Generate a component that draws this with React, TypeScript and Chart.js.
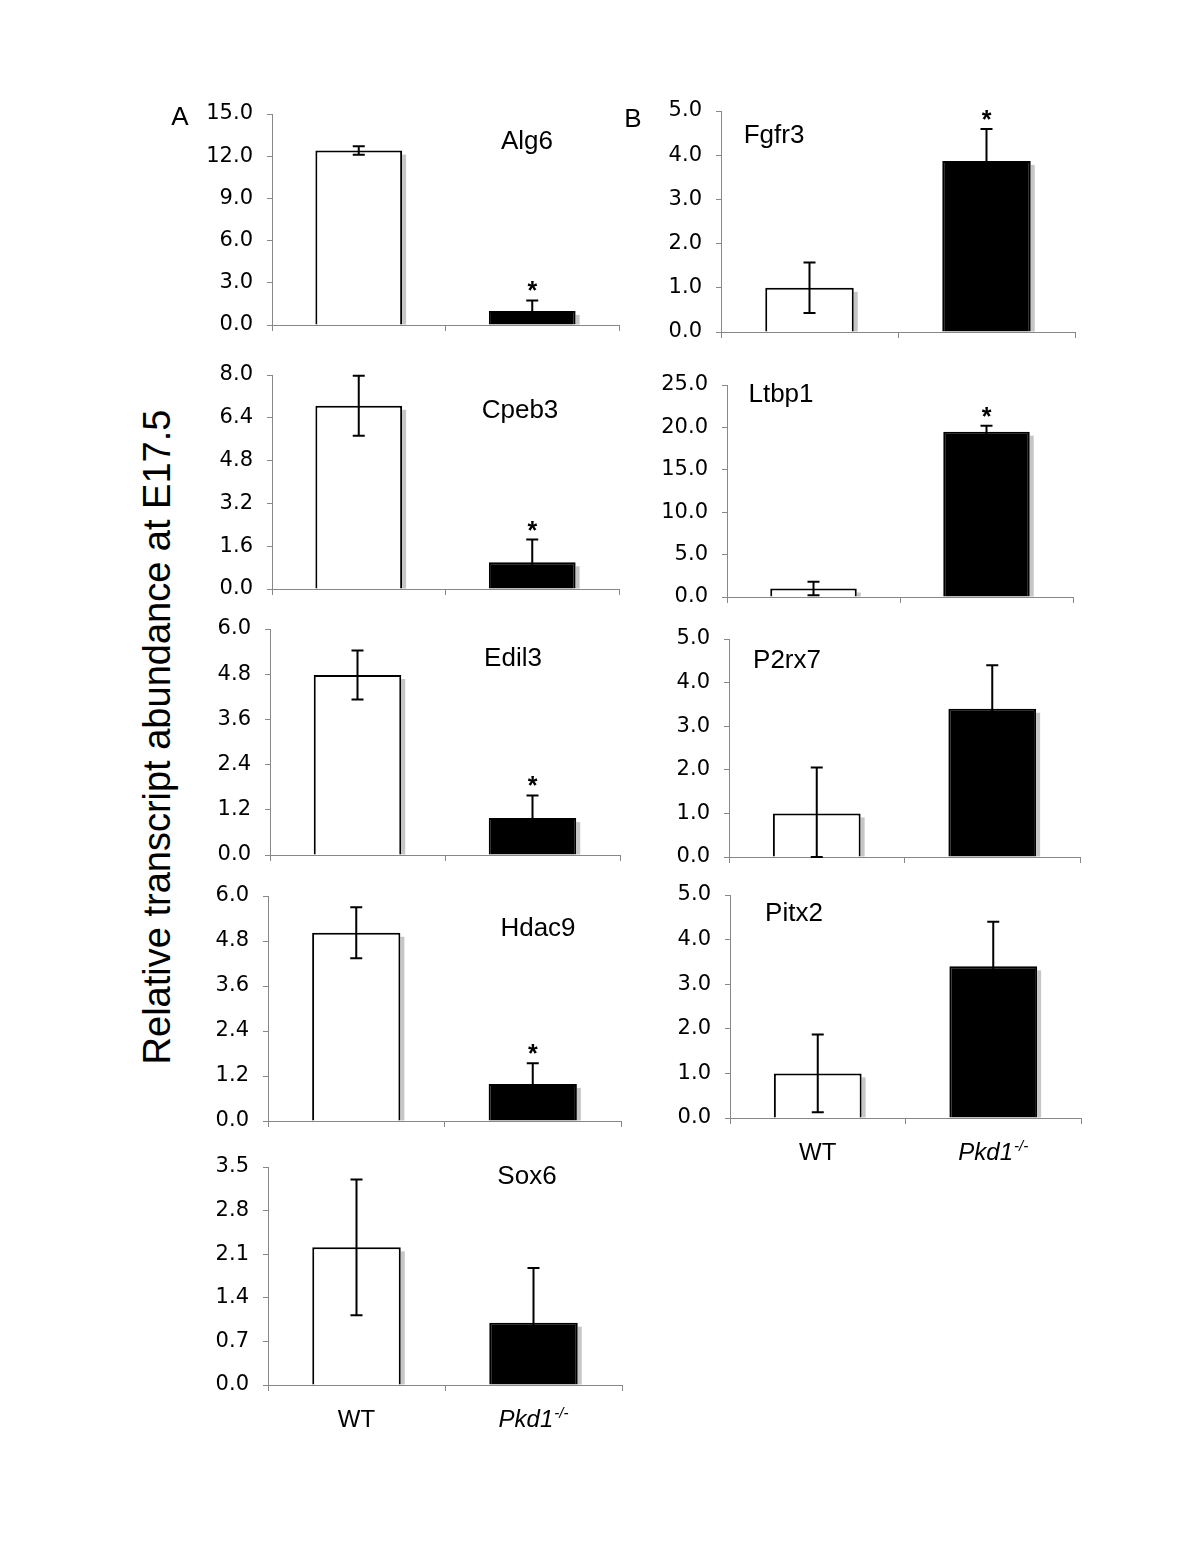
import React, { useEffect, useRef } from "react";
import { Chart, registerables } from "chart.js";

Chart.register(...registerables);

// ---------------- data ----------------
const groups = ["WT", "Pkd1-/-"];
const genes = ["Alg6", "Cpeb3", "Edil3", "Hdac9", "Sox6", "Fgfr3", "Ltbp1", "P2rx7", "Pitx2"];
const wtMeans = [12.4, 6.85, 4.78, 5.02, 2.21, 1.0, 1.0, 1.0, 1.0];
const wtErrors = [0.3, 1.12, 0.65, 0.68, 1.09, 0.57, 0.8, 1.05, 0.87];
const koMeans = [1.0, 1.0, 0.98, 0.99, 1.0, 3.87, 19.5, 3.4, 3.4];
const koErrors = [0.75, 0.85, 0.6, 0.55, 0.88, 0.72, 0.7, 1.0, 1.0];
const koSignificant = [true, true, true, true, false, true, true, false, false];
const yTickLabels = [
  ["0.0", "3.0", "6.0", "9.0", "12.0", "15.0"],
  ["0.0", "1.6", "3.2", "4.8", "6.4", "8.0"],
  ["0.0", "1.2", "2.4", "3.6", "4.8", "6.0"],
  ["0.0", "1.2", "2.4", "3.6", "4.8", "6.0"],
  ["0.0", "0.7", "1.4", "2.1", "2.8", "3.5"],
  ["0.0", "1.0", "2.0", "3.0", "4.0", "5.0"],
  ["0.0", "5.0", "10.0", "15.0", "20.0", "25.0"],
  ["0.0", "1.0", "2.0", "3.0", "4.0", "5.0"],
  ["0.0", "1.0", "2.0", "3.0", "4.0", "5.0"],
];
const panelLetters = ["A", "B"];
const yAxisTitle = "Relative transcript abundance at E17.5";

// ---------------- layout (page pixels) ----------------
const panelLayout = [
  { axisX: 272, topY: 114, zeroY: 325, rightX: 619, titleX: 527, titleY: 142, groupLabels: false },
  { axisX: 272, topY: 375, zeroY: 589, rightX: 619, titleX: 520, titleY: 411, groupLabels: false },
  { axisX: 270, topY: 629, zeroY: 855, rightX: 620, titleX: 513, titleY: 659, groupLabels: false },
  { axisX: 268, topY: 896, zeroY: 1121, rightX: 621, titleX: 538, titleY: 929, groupLabels: false },
  { axisX: 268, topY: 1167, zeroY: 1385, rightX: 622, titleX: 527, titleY: 1177, groupLabels: true },
  { axisX: 721, topY: 111, zeroY: 332, rightX: 1075, titleX: 774, titleY: 136, groupLabels: false },
  { axisX: 727, topY: 385, zeroY: 597, rightX: 1073, titleX: 781, titleY: 395, groupLabels: false },
  { axisX: 729, topY: 639, zeroY: 857, rightX: 1080, titleX: 787, titleY: 661, groupLabels: false },
  { axisX: 730, topY: 895, zeroY: 1118, rightX: 1081, titleX: 794, titleY: 914, groupLabels: true },
];
const letterLayout = [
  { x: 180, y: 116 },
  { x: 633, y: 118 },
];

const YW = 90; // y-axis box width
const PT = 16; // top padding
const PR = 10; // right padding
const XH = 14; // x-axis box height
const PB_LABELS = 50;

const SANS = '"Liberation Sans", Arial, sans-serif';
const TICKFONT = '"DejaVu Sans", Verdana, sans-serif';

function Panel({ idx }: { idx: number }) {
  const ref = useRef<HTMLCanvasElement | null>(null);
  const lay = panelLayout[idx];
  const pb = lay.groupLabels ? PB_LABELS : 0;
  const left = lay.axisX - YW;
  const top = lay.topY - PT;
  const width = lay.rightX - lay.axisX + YW + PR;
  const height = lay.zeroY - lay.topY + PT + XH + pb;

  useEffect(() => {
    if (!ref.current) return;
    const means = [wtMeans[idx], koMeans[idx]];
    const errs = [wtErrors[idx], koErrors[idx]];
    const tickLabels = yTickLabels[idx];
    const tickVals = tickLabels.map((t) => parseFloat(t));

    const deco = {
      id: "deco",
      beforeDatasetsDraw(chart: any) {
        const ctx = chart.ctx;
        const meta = chart.getDatasetMeta(0);
        ctx.save();
        ctx.fillStyle = "#c6c6c6";
        meta.data.forEach((bar: any) => {
          const p = bar.getProps(["x", "y", "base", "width"], true);
          ctx.fillRect(p.x + p.width / 2, p.y + 4, 4, p.base - p.y - 4);
        });
        ctx.restore();
      },
      afterDatasetsDraw(chart: any) {
        const ctx = chart.ctx;
        const ys = chart.scales.y;
        const meta = chart.getDatasetMeta(0);
        ctx.save();
        ctx.strokeStyle = "#000";
        ctx.lineWidth = 2;
        meta.data.forEach((bar: any, i: number) => {
          const x = bar.x;
          const yTop = ys.getPixelForValue(means[i] + errs[i]);
          const yBot = ys.getPixelForValue(Math.max(means[i] - errs[i], 0));
          ctx.beginPath();
          ctx.moveTo(x, yTop);
          ctx.lineTo(x, yBot);
          ctx.moveTo(x - 6, yTop);
          ctx.lineTo(x + 6, yTop);
          ctx.moveTo(x - 6, yBot);
          ctx.lineTo(x + 6, yBot);
          ctx.stroke();
          if (i === 1 && koSignificant[idx]) {
            ctx.fillStyle = "#000";
            ctx.font = `bold 25px ${SANS}`;
            ctx.textAlign = "center";
            ctx.textBaseline = "alphabetic";
            ctx.fillText("*", x, yTop - 1);
          }
        });
        ctx.restore();
      },
      afterDraw(chart: any) {
        const ctx = chart.ctx;
        ctx.save();
        ctx.fillStyle = "#000";
        ctx.font = `26px ${SANS}`;
        ctx.textAlign = "center";
        ctx.textBaseline = "middle";
        ctx.fillText(genes[idx], lay.titleX - left, lay.titleY - top);
        if (lay.groupLabels) {
          const xs = chart.scales.x;
          const baseY = chart.chartArea.bottom + 33 + 8.6;
          groups.forEach((g, i) => {
            const cx = xs.getPixelForValue(i);
            const supIdx = g.indexOf("-/-");
            if (supIdx < 0) {
              ctx.font = `24px ${SANS}`;
              ctx.textAlign = "center";
              ctx.textBaseline = "alphabetic";
              ctx.fillText(g, cx, baseY);
            } else {
              const main = g.slice(0, supIdx);
              const sup = g.slice(supIdx);
              ctx.font = `italic 24px ${SANS}`;
              const w1 = ctx.measureText(main).width;
              ctx.font = `italic 15px ${SANS}`;
              const w2 = ctx.measureText(sup).width;
              const sx = cx - (w1 + w2 + 1) / 2;
              ctx.textAlign = "left";
              ctx.textBaseline = "alphabetic";
              ctx.font = `italic 24px ${SANS}`;
              ctx.fillText(main, sx, baseY);
              ctx.font = `italic 15px ${SANS}`;
              ctx.fillText(sup, sx + w1 + 1, baseY - 9);
            }
          });
        }
        ctx.restore();
      },
    };

    const chart = new Chart(ref.current, {
      type: "bar",
      data: {
        labels: groups,
        datasets: [
          {
            data: means,
            backgroundColor: ["#ffffff", "#000000"],
            borderColor: "#000000",
            borderWidth: 2,
            borderSkipped: "start",
            categoryPercentage: 1,
            barPercentage: 0.5,
          },
        ],
      },
      options: {
        responsive: false,
        animation: false,
        events: [],
        devicePixelRatio: 1,
        layout: { padding: { top: PT, right: PR, bottom: pb, left: 0 } },
        plugins: { legend: { display: false }, tooltip: { enabled: false }, title: { display: false } },
        scales: {
          x: {
            offset: true,
            afterFit: (s: any) => {
              s.height = XH;
              s.paddingLeft = 0;
              s.paddingRight = 0;
              s.paddingTop = 0;
              s.paddingBottom = 0;
            },
            ticks: { display: false },
            grid: { offset: true, drawOnChartArea: false, drawTicks: true, tickLength: 6, color: "#888888", lineWidth: 1 },
            border: { display: true, color: "#888888", width: 1 },
          },
          y: {
            min: 0,
            max: tickVals[tickVals.length - 1],
            afterBuildTicks: (s: any) => {
              s.ticks = tickVals.map((v) => ({ value: v }));
            },
            afterFit: (s: any) => {
              s.width = YW;
              s.paddingTop = 0;
              s.paddingBottom = 0;
              s.paddingLeft = 0;
              s.paddingRight = 0;
            },
            ticks: {
              color: "#000000",
              padding: 14,
              font: { family: TICKFONT, size: 21 },
              callback: (_v: any, i: number) => tickLabels[i],
            },
            grid: { drawOnChartArea: false, drawTicks: true, tickLength: 5, color: "#888888", lineWidth: 1 },
            border: { display: true, color: "#888888", width: 1 },
          },
        },
      } as any,
      plugins: [deco],
    });
    return () => chart.destroy();
  }, [idx]);

  return (
    <canvas
      ref={ref}
      width={width}
      height={height}
      style={{ position: "absolute", left, top, width, height }}
    />
  );
}

export default function App() {
  return (
    <div style={{ position: "absolute", left: 0, top: 0, width: 1200, height: 1553, background: "#ffffff", overflow: "hidden" }}>
      {genes.map((_, i) => (
        <Panel key={i} idx={i} />
      ))}
      {panelLetters.map((l, i) => (
        <div
          key={l}
          style={{
            position: "absolute",
            left: letterLayout[i].x,
            top: letterLayout[i].y,
            transform: "translate(-50%, -50%)",
            fontFamily: SANS,
            fontSize: 26,
            lineHeight: 1,
            color: "#000",
          }}
        >
          {l}
        </div>
      ))}
      <div
        style={{
          position: "absolute",
          left: 157,
          top: 737,
          transform: "translate(-50%, -50%) rotate(-90deg)",
          fontFamily: SANS,
          fontSize: 38,
          lineHeight: 1,
          whiteSpace: "nowrap",
          color: "#000",
        }}
      >
        {yAxisTitle}
      </div>
    </div>
  );
}
